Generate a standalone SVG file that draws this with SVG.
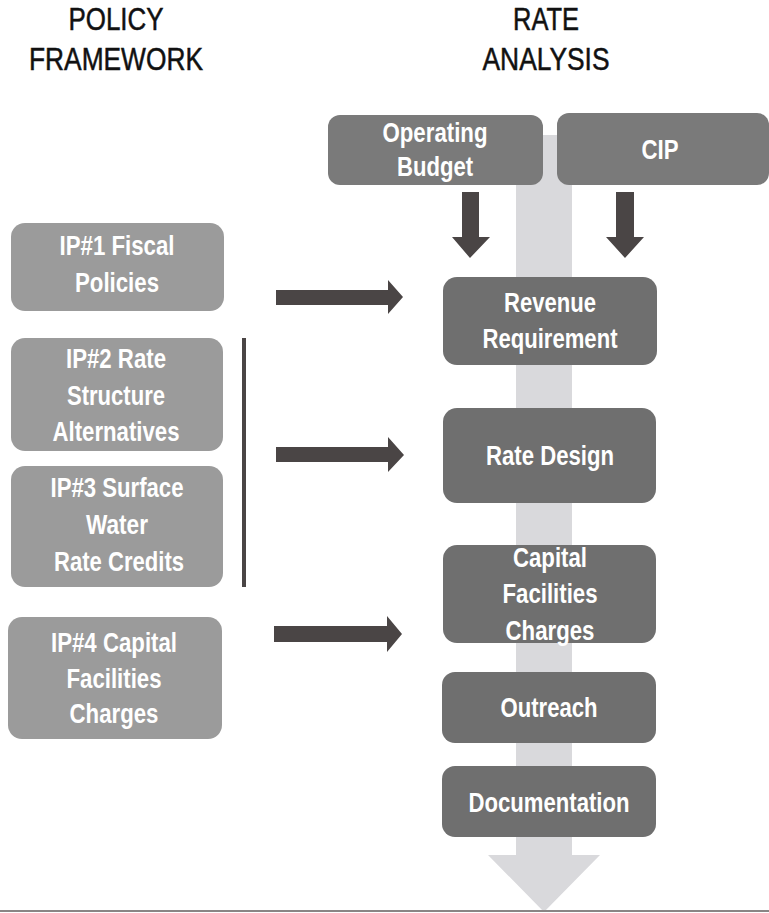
<svg xmlns="http://www.w3.org/2000/svg" width="769" height="913" viewBox="0 0 769 913">
<style>
.hdr{font-family:"Liberation Sans",Arial,sans-serif;font-size:32px;fill:#111;stroke:#111;stroke-width:0.5;text-anchor:middle}
.t{font-family:"Liberation Sans",Arial,sans-serif;font-size:27px;font-weight:bold;fill:#fff;text-anchor:middle}
.lbox{fill:#9b9b9b}
.rbox{fill:#6f6f6f}
.tbox{fill:#7a7a7a}
.arr{fill:#4a4545}
</style>
<rect width="769" height="913" fill="#fff"/>
<g id="headers">
<text class="hdr" x="116" y="30" textLength="95" lengthAdjust="spacingAndGlyphs">POLICY</text>
<text class="hdr" x="116" y="70" textLength="174" lengthAdjust="spacingAndGlyphs">FRAMEWORK</text>
<text class="hdr" x="546" y="30" textLength="66" lengthAdjust="spacingAndGlyphs">RATE</text>
<text class="hdr" x="546" y="70" textLength="127" lengthAdjust="spacingAndGlyphs">ANALYSIS</text>
</g>
<g id="flow-band">
<path d="M516,135 H572 V855 H600 L544,912 L488,855 H516 Z" fill="#d9d9dc"/>
</g>
<g id="operating-budget">
<rect class="tbox" x="328" y="115" width="215" height="70" rx="12"/>
<text class="t" x="435" y="142" textLength="105" lengthAdjust="spacingAndGlyphs">Operating</text>
<text class="t" x="435" y="176" textLength="76" lengthAdjust="spacingAndGlyphs">Budget</text>
</g>
<g id="cip">
<rect class="tbox" x="557" y="113" width="212" height="72" rx="12"/>
<text class="t" x="660" y="159" textLength="37" lengthAdjust="spacingAndGlyphs">CIP</text>
</g>
<g id="ip1">
<rect class="lbox" x="11" y="223" width="213" height="88" rx="14"/>
<text class="t" x="117" y="255" textLength="115" lengthAdjust="spacingAndGlyphs">IP#1 Fiscal</text>
<text class="t" x="117" y="292" textLength="84" lengthAdjust="spacingAndGlyphs">Policies</text>
</g>
<g id="ip2">
<rect class="lbox" x="11" y="338" width="212" height="113" rx="14"/>
<text class="t" x="116" y="368" textLength="100" lengthAdjust="spacingAndGlyphs">IP#2 Rate</text>
<text class="t" x="116" y="405" textLength="98" lengthAdjust="spacingAndGlyphs">Structure</text>
<text class="t" x="116" y="441" textLength="127" lengthAdjust="spacingAndGlyphs">Alternatives</text>
</g>
<g id="ip3">
<rect class="lbox" x="11" y="466" width="212" height="121" rx="14"/>
<text class="t" x="117" y="497" textLength="133" lengthAdjust="spacingAndGlyphs">IP#3 Surface</text>
<text class="t" x="117" y="534" textLength="62" lengthAdjust="spacingAndGlyphs">Water</text>
<text class="t" x="119" y="571" textLength="130" lengthAdjust="spacingAndGlyphs">Rate Credits</text>
</g>
<g id="ip4">
<rect class="lbox" x="8" y="617" width="214" height="122" rx="14"/>
<text class="t" x="114" y="652" textLength="126" lengthAdjust="spacingAndGlyphs">IP#4 Capital</text>
<text class="t" x="114" y="688" textLength="95" lengthAdjust="spacingAndGlyphs">Facilities</text>
<text class="t" x="114" y="723" textLength="89" lengthAdjust="spacingAndGlyphs">Charges</text>
</g>
<g id="revenue-requirement">
<rect class="rbox" x="443" y="277" width="214" height="88" rx="14"/>
<text class="t" x="550" y="312" textLength="92" lengthAdjust="spacingAndGlyphs">Revenue</text>
<text class="t" x="550" y="348" textLength="135" lengthAdjust="spacingAndGlyphs">Requirement</text>
</g>
<g id="rate-design">
<rect class="rbox" x="443" y="408" width="213" height="95" rx="14"/>
<text class="t" x="550" y="465" textLength="128" lengthAdjust="spacingAndGlyphs">Rate Design</text>
</g>
<g id="capital-facilities-charges">
<rect class="rbox" x="443" y="545" width="213" height="98" rx="14"/>
<text class="t" x="550" y="567" textLength="74" lengthAdjust="spacingAndGlyphs">Capital</text>
<text class="t" x="550" y="603" textLength="95" lengthAdjust="spacingAndGlyphs">Facilities</text>
<text class="t" x="550" y="640" textLength="89" lengthAdjust="spacingAndGlyphs">Charges</text>
</g>
<g id="outreach">
<rect class="rbox" x="442" y="672" width="214" height="71" rx="13"/>
<text class="t" x="549" y="717" textLength="97" lengthAdjust="spacingAndGlyphs">Outreach</text>
</g>
<g id="documentation">
<rect class="rbox" x="442" y="766" width="214" height="71" rx="13"/>
<text class="t" x="549" y="812" textLength="161" lengthAdjust="spacingAndGlyphs">Documentation</text>
</g>
<g id="connectors">
<path class="arr" d="M462,192 H479 V237 H490 L470,258 L452,237 H462 Z"/>
<path class="arr" d="M616,192 H634 V237 H644 L625,258 L606,237 H616 Z"/>
<path class="arr" d="M276,290 H388 V280 L403,297 L388,314 V305 H276 Z"/>
<path class="arr" d="M276,447 H388 V437 L404,455 L388,472 V462 H276 Z"/>
<path class="arr" d="M274,626 H387 V616 L402,634 L387,652 V642 H274 Z"/>
<rect x="242" y="338" width="4" height="249" fill="#4a4545"/>
</g>
<line x1="0" y1="911" x2="769" y2="911" stroke="#8a8585" stroke-width="2"/>
</svg>
